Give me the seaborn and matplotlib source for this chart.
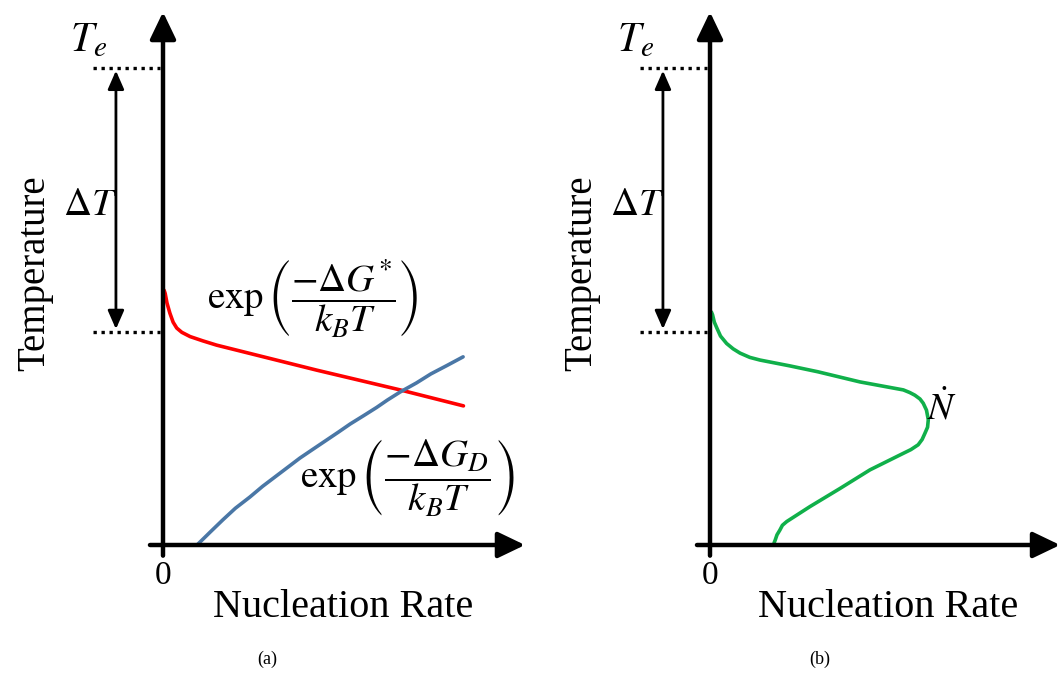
import numpy as np
import matplotlib
matplotlib.use("Agg")
import matplotlib.pyplot as plt
import seaborn as sns
import pandas as pd

# ---------------- data (normalised: x = nucleation rate, y = temperature) -------------
red_x = [0.003, 0.006, 0.011, 0.019, 0.028, 0.038, 0.052, 0.075, 0.110, 0.148, 0.425, 0.655, 0.830]
red_y = [0.478, 0.472, 0.454, 0.435, 0.418, 0.407, 0.399, 0.391, 0.383, 0.375, 0.328, 0.291, 0.261]

blue_x = [0.094, 0.130, 0.165, 0.200, 0.240, 0.275, 0.310, 0.345, 0.378, 0.415, 0.450,
          0.485, 0.517, 0.555, 0.590, 0.620, 0.655, 0.700, 0.740, 0.785, 0.829]
blue_y = [0.000, 0.024, 0.047, 0.069, 0.090, 0.110, 0.128, 0.146, 0.163, 0.180, 0.196,
          0.212, 0.227, 0.243, 0.258, 0.272, 0.287, 0.304, 0.321, 0.337, 0.353]

green_x = [0.004, 0.007, 0.012, 0.019, 0.029, 0.046, 0.064, 0.083, 0.110, 0.138, 0.221, 0.298,
           0.414, 0.534, 0.552, 0.566, 0.580, 0.589, 0.598, 0.603, 0.601, 0.594, 0.586, 0.575,
           0.555, 0.534, 0.442, 0.359, 0.276, 0.212, 0.200, 0.193, 0.185, 0.180, 0.177]
green_y = [0.437, 0.432, 0.418, 0.407, 0.392, 0.378, 0.368, 0.360, 0.352, 0.347, 0.336, 0.325,
           0.306, 0.291, 0.286, 0.281, 0.274, 0.266, 0.253, 0.235, 0.221, 0.210, 0.198, 0.188,
           0.179, 0.172, 0.141, 0.106, 0.072, 0.044, 0.037, 0.028, 0.019, 0.009, 0.004]

Te_level = 0.895
dT_level = 0.400

x_label = "Nucleation Rate"
y_label = "Temperature"
panel_labels = ["(a)", "(b)"]
label_red = r"$\exp\left(\dfrac{-\Delta G^{*}}{k_BT}\right)$"
label_blue = r"$\exp\left(\dfrac{-\Delta G_D}{k_BT}\right)$"
label_green = r"$\dot{N}$"

# ---------------- style -------------
sns.set_theme(style="white")
plt.rcParams["font.family"] = ["Liberation Serif", "DejaVu Serif"]
plt.rcParams["mathtext.fontset"] = "stix"
plt.rcParams["text.color"] = "black"

W, H = 1061, 677
fig = plt.figure(figsize=(W / 100, H / 100), dpi=100)

def make_axes(left_px):
    ax = fig.add_axes([left_px / W, (H - 545) / H, 362 / W, 533 / H])
    ax.set_xlim(0, 1)
    ax.set_ylim(0, 1)
    ax.axis("off")
    return ax

ax_a = make_axes(163)
ax_b = make_axes(710)

big_arrow = dict(arrowstyle="-|>,head_length=0.75,head_width=0.36", lw=3.2,
                 color="black", mutation_scale=22, shrinkA=0, shrinkB=0)

def draw_frame(ax, xend, letter_x, label_x, letter):
    ax.annotate("", xy=(0, 1.0), xytext=(0, -0.02), arrowprops=big_arrow,
                annotation_clip=False)
    ax.annotate("", xy=(xend, 0), xytext=(-0.036, 0), arrowprops=big_arrow,
                annotation_clip=False)
    ax.plot([-0.193, -0.008], [Te_level, Te_level], color="black", lw=2.4,
            ls=(0, (1.0, 1.4)), clip_on=False)
    ax.plot([-0.193, -0.008], [dT_level, dT_level], color="black", lw=2.4,
            ls=(0, (1.0, 1.4)), clip_on=False)
    ax.annotate("", xy=(-0.130, dT_level + 0.005), xytext=(-0.130, Te_level - 0.005),
                arrowprops=dict(arrowstyle="<|-|>,head_length=0.8,head_width=0.35", lw=2.0,
                                color="black", mutation_scale=14, shrinkA=0, shrinkB=0),
                annotation_clip=False)
    ax.text(-0.205, 0.945, r"$T_e$", fontsize=30, ha="center", va="center")
    ax.text(-0.200, 0.637, r"$\Delta T$", fontsize=28, ha="center", va="center")
    ax.text(-0.355, 0.51, y_label, fontsize=28, rotation=90, ha="center", va="center")
    ax.text(0.0, -0.058, "0", fontsize=24, ha="center", va="center")
    ax.text(label_x, -0.118, x_label, fontsize=29, ha="center", va="center")
    ax.text(letter_x, -0.215, letter, fontsize=13, ha="center", va="center")

draw_frame(ax_a, 1.0, 0.287, 0.497, panel_labels[0])
draw_frame(ax_b, 0.967, 0.304, 0.492, panel_labels[1])

df_red = pd.DataFrame({"x": red_x, "y": red_y})
df_blue = pd.DataFrame({"x": blue_x, "y": blue_y})
df_green = pd.DataFrame({"x": green_x, "y": green_y})

line_kw = dict(sort=False, estimator=None, lw=2.6,
               solid_joinstyle="round", solid_capstyle="round")
sns.lineplot(data=df_red, x="x", y="y", ax=ax_a, color="#ff0000", **line_kw)
sns.lineplot(data=df_blue, x="x", y="y", ax=ax_a, color="#4a77a6", **line_kw)
sns.lineplot(data=df_green, x="x", y="y", ax=ax_b, color="#10b04a", **line_kw)
for ax in (ax_a, ax_b):
    ax.set_xlim(0, 1)
    ax.set_ylim(0, 1)
    ax.axis("off")

ax_a.text(0.414, 0.463, label_red, fontsize=28, ha="center", va="center")
ax_a.text(0.675, 0.127, label_blue, fontsize=28, ha="center", va="center")
ax_b.text(0.640, 0.255, label_green, fontsize=27, ha="center", va="center")

fig.savefig("out.png", dpi=100)
